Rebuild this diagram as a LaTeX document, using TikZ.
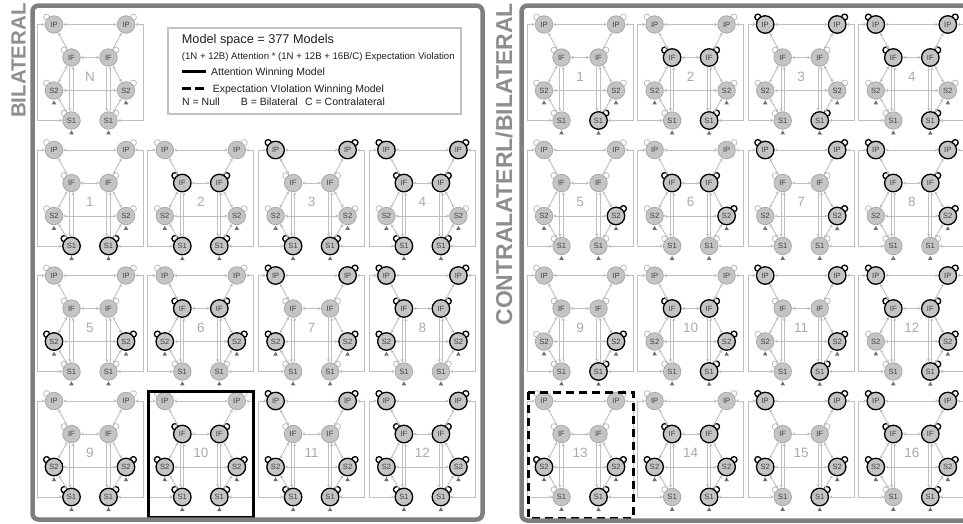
\documentclass[tikz,border=0pt]{standalone}
\usepackage{fontspec}
\setmainfont{Liberation Sans}
\usetikzlibrary{arrows.meta}
\definecolor{nfill}{HTML}{C4C4C4}
\definecolor{nlo}{HTML}{A4A4A4}
\definecolor{lpc}{HTML}{BDBDBD}
\definecolor{conc}{HTML}{BFBFBF}
\definecolor{framec}{HTML}{7F7F7F}
\definecolor{ntxt}{HTML}{404040}
\definecolor{numc}{HTML}{ABABAB}
\definecolor{lblc}{HTML}{8E8E8E}
\definecolor{tric}{HTML}{6E6E6E}
\definecolor{legc}{HTML}{C2C2C2}
\tikzset{
  nd/.style={circle, minimum size=17.5pt, inner sep=0pt, fill=nfill, text=ntxt, font=\fontsize{7.6}{8}\selectfont},
  lo/.style={draw=nlo, line width=0.7pt},
  hi/.style={draw=black, line width=1.3pt},
  lplo/.style={draw=lpc, line width=0.8pt},
  lphi/.style={draw=black, line width=1.3pt},
  ns/.code={\edef\nstmp{#1}\expandafter\pgfkeysalso\expandafter{\nstmp}},
  conn/.style={draw=conc, line width=0.9pt, <->},
  conf/.style={draw=conc, line width=0.9pt, ->},
  conb/.style={draw=conc, line width=0.9pt, <-},
  tri/.style={fill=tric},
  numl/.style={text=numc, font=\fontsize{13.5}{14}\selectfont, inner sep=0pt},
  legt/.style={anchor=base west, inner sep=0pt, text=black!88, font=\fontsize{10.5}{12}\selectfont},
  panel/.style={draw=framec, line width=4.5pt, rounded corners=6pt},
  side/.style={rotate=90, anchor=base east, inner sep=0pt, text=lblc, font=\bfseries\fontsize{20.5}{20}\selectfont},
}
\begin{document}
\begin{tikzpicture}[x=1pt,y=-1pt,>={Stealth[length=3.3pt,width=3.3pt]}]
\useasboundingbox (0,0) rectangle (963,523);
\clip (0,0) rectangle (963,523);
\fill[white] (0,0) rectangle (963,523);

\foreach \Tid/\Tx/\Ty/\Tl/\Tp/\Tf/\Tsa/\Tsb/\Toa/\Tob in {
  L0/90/24.5/N/lo/lo/lo/lo/lo/lo,
  L1/90/150/1/lo/lo/lo/lo/hi/hi,
  L2/200.8/150/2/lo/hi/lo/lo/hi/hi,
  L3/311.6/150/3/hi/lo/lo/lo/hi/hi,
  L4/422.4/150/4/hi/hi/lo/lo/hi/hi,
  L5/90/275.5/5/lo/lo/hi/hi/lo/lo,
  L6/200.8/275.5/6/lo/hi/hi/hi/lo/lo,
  L7/311.6/275.5/7/hi/lo/hi/hi/lo/lo,
  L8/422.4/275.5/8/hi/hi/hi/hi/lo/lo,
  L9/90/401/9/lo/lo/hi/hi/hi/hi,
  L10/200.8/401/10/lo/hi/hi/hi/hi/hi,
  L11/311.6/401/11/hi/lo/hi/hi/hi/hi,
  L12/422.4/401/12/hi/hi/hi/hi/hi/hi,
  R1/580/24.5/1/lo/lo/lo/lo/lo/hi,
  R2/690.6/24.5/2/lo/hi/lo/lo/lo/hi,
  R3/801.2/24.5/3/hi/lo/lo/lo/lo/hi,
  R4/911.8/24.5/4/hi/hi/lo/lo/lo/hi,
  R5/580/150/5/lo/lo/lo/hi/lo/lo,
  R6/690.6/150/6/lo/hi/lo/hi/lo/lo,
  R7/801.2/150/7/hi/lo/lo/hi/lo/lo,
  R8/911.8/150/8/hi/hi/lo/hi/lo/lo,
  R9/580/275.5/9/lo/lo/lo/hi/lo/hi,
  R10/690.6/275.5/10/lo/hi/lo/hi/lo/hi,
  R11/801.2/275.5/11/hi/lo/lo/hi/lo/hi,
  R12/911.8/275.5/12/hi/hi/lo/hi/lo/hi,
  R13/580/401/13/lo/lo/hi/hi/lo/hi,
  R14/690.6/401/14/lo/hi/hi/hi/lo/hi,
  R15/801.2/401/15/hi/lo/hi/hi/lo/hi,
  R16/911.8/401/16/hi/hi/hi/hi/lo/hi}{
\begin{scope}[name prefix=\Tid-]
  % self connections
  \draw[ns=lp\Tp] (\Tx-36-7.4,\Ty-7.4) circle[radius=3];
  \draw[ns=lp\Tp] (\Tx+36+7.4,\Ty-7.4) circle[radius=3];
  \draw[ns=lp\Tf] (\Tx-18.5-7.4,\Ty+33-7.4) circle[radius=3];
  \draw[ns=lp\Tf] (\Tx+18.5+7.4,\Ty+33-7.4) circle[radius=3];
  \draw[ns=lp\Tsa] (\Tx-36-7.4,\Ty+66-7.4) circle[radius=3];
  \draw[ns=lp\Tsb] (\Tx+36+7.4,\Ty+66-7.4) circle[radius=3];
  \draw[ns=lp\Toa] (\Tx-18.5-7.4,\Ty+96-7.4) circle[radius=3];
  \draw[ns=lp\Tob] (\Tx+18.5+7.4,\Ty+96-7.4) circle[radius=3];
  % nodes
  \node[nd,ns=\Tp] (ipl) at (\Tx-36,\Ty) {IP};
  \node[nd,ns=\Tp] (ipr) at (\Tx+36,\Ty) {IP};
  \node[nd,ns=\Tf] (ifl) at (\Tx-18.5,\Ty+33) {IF};
  \node[nd,ns=\Tf] (ifr) at (\Tx+18.5,\Ty+33) {IF};
  \node[nd,ns=\Tsa] (s2l) at (\Tx-36,\Ty+66) {S2};
  \node[nd,ns=\Tsb] (s2r) at (\Tx+36,\Ty+66) {S2};
  \node[nd,ns=\Toa] (s1l) at (\Tx-18.5,\Ty+96) {S1};
  \node[nd,ns=\Tob] (s1r) at (\Tx+18.5,\Ty+96) {S1};
  \node[numl] (lab) at (\Tx,\Ty+52) {\Tl};
  % connections
  \draw[conn] (ipl) -- (ipr);
  \draw[conn] (ipl) -- (ifl);
  \draw[conn] (ipr) -- (ifr);
  \draw[conn] (ifl) -- (ifr);
  \draw[conn] (ifl) -- (s2l);
  \draw[conn] (ifr) -- (s2r);
  \draw[conn] (s2l) -- (s2r);
  \draw[conn] (s2l) -- (s1l);
  \draw[conn] (s2r) -- (s1r);
  \draw[conf] ([xshift=-1.6pt]ifl.south) -- ([xshift=-1.6pt]s1l.north);
  \draw[conb] ([xshift=1.6pt]ifl.south) -- ([xshift=1.6pt]s1l.north);
  \draw[conf] ([xshift=-1.6pt]ifr.south) -- ([xshift=-1.6pt]s1r.north);
  \draw[conb] ([xshift=1.6pt]ifr.south) -- ([xshift=1.6pt]s1r.north);
  \draw[conn] (ipl) -- (\Tx-53,\Ty) |- (s1l);
  \draw[conn] (ipr) -- (\Tx+53,\Ty) |- (s1r);
  % driving inputs
  \fill[tri] ([yshift=-0.8pt]s2l.south) -- ++(-2.3,4) -- ++(4.6,0) -- cycle;
  \fill[tri] ([yshift=-0.8pt]s2r.south) -- ++(-2.3,4) -- ++(4.6,0) -- cycle;
  \fill[tri] ([yshift=-0.8pt]s1l.south) -- ++(-2.3,4) -- ++(4.6,0) -- cycle;
  \fill[tri] ([yshift=-0.8pt]s1r.south) -- ++(-2.3,4) -- ++(4.6,0) -- cycle;
\end{scope}
}

% legend
\node[draw=legc, line width=1.8pt, fill=white, minimum width=293pt, minimum height=86.5pt, anchor=north west, inner sep=0pt] (legend) at (166.7,26.7) {};
\node[legt, font=\fontsize{12.7}{14}\selectfont] (lg1) at (181.7,43.3) {Model space = 377 Models};
\node[legt, font=\fontsize{9.6}{11}\selectfont] (lg2) at (181.7,59.3) {(1N + 12B) Attention * (1N + 12B + 16B/C) Expectation Violation};
\draw[line width=2.6pt, black] (182.3,71.7) -- (205.7,71.7);
\node[legt] (lg3) at (211,75.5) {Attention Winning Model};
\draw[line width=2.6pt, black, dash pattern=on 8.5pt off 4.5pt] (182.3,88.3) -- (205.7,88.3);
\node[legt] (lg4) at (212.7,92) {Expectation VIolation Winning Model};
\node[legt] (lg5) at (182,105.5) {N = Null};
\node[legt] (lg6) at (240.7,105.5) {B = Bilateral};
\node[legt] (lg7) at (305,105.5) {C = Contralateral};

% winning models
\draw[line width=3pt, black] (148.3,391.5) rectangle (253.3,517);
\draw[line width=3pt, black, dash pattern=on 8pt off 5pt] (528,392) rectangle (633,518);

% panels
\draw[panel] (32.5,5.5) rectangle (482.5,519.5);
\draw[panel] (521.5,5.5) rectangle (995,520.5);
\node[side] (sideL) at (25.5,3) {BILATERAL};
\node[side, font=\bfseries\fontsize{23}{22}\selectfont] (sideR) at (512,3) {CONTRALATERL/BILATERAL};
\end{tikzpicture}
\end{document}
